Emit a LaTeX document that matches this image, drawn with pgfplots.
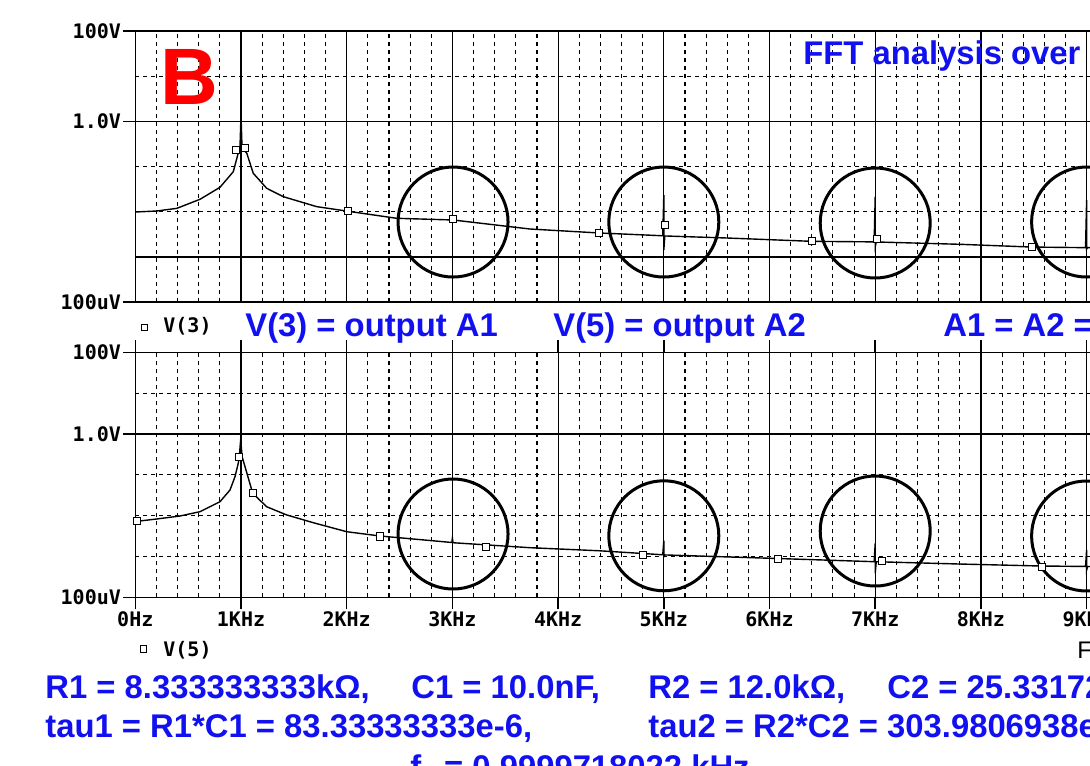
\documentclass[border=0pt]{standalone}
\usepackage{fontspec}
\setmainfont{Liberation Sans}
\newfontfamily\pmono{DejaVu Sans Mono}
\usepackage{pgfplots}
\usepackage{pgfplotstable}
\pgfplotsset{compat=1.18}
\definecolor{pblue}{RGB}{16,16,240}

\tikzset{
  gridd/.style={dash pattern=on 2pt off 2pt, line width=0.55pt, black},
  trace/.style={black, line width=0.7pt},
  spots/.style={only marks, mark=square*, mark size=1.8pt,
    mark options={fill=white, draw=black, line width=0.5pt}},
  ring/.style={line width=1.5pt, black},
  blue txt/.style={anchor=base west, inner sep=0, text=pblue, font=\bfseries\fontsize{16.4}{18}\selectfont},
  mono txt/.style={anchor=base west, inner sep=0, font=\pmono\bfseries\fontsize{10}{10}\selectfont},
}

\pgfplotstableread{
f v
0.000 9.9e-3
0.200 1.04e-2
0.392 1.19e-2
0.612 1.89e-2
0.801 3.48e-2
0.927 7.71e-2
0.974 0.200
0.990 0.25
1.000 1.39
1.010 0.25
1.054 0.200
1.116 7.11e-2
1.243 3.31e-2
1.400 2.16e-2
1.716 1.30e-2
2.009 1.03e-2
2.473 7.18e-3
3.006 6.59e-3
3.734 4.16e-3
4.387 3.40e-3
4.990 2.95e-3
5.000 2.35e-2
5.000 1.43e-3
5.010 2.92e-3
5.600 2.63e-3
6.400 2.22e-3
6.990 2.16e-3
7.000 2.16e-2
7.000 1.69e-3
7.010 2.15e-3
7.800 1.91e-3
8.480 1.66e-3
8.990 1.61e-3
9.000 1.82e-2
9.000 1.50e-3
9.010 1.61e-3
9.500 1.55e-3
}\traceA

\pgfplotstableread{
f v
0.953 0.233
1.038 0.258
2.009 1.03e-2
3.006 6.93e-3
4.387 3.40e-3
5.011 5.10e-3
6.400 2.22e-3
7.016 2.47e-3
8.480 1.66e-3
}\marksA

\pgfplotstableread{
f v
0.000 7.18e-3
0.200 8.26e-3
0.423 9.79e-3
0.612 1.25e-2
0.801 2.19e-2
0.896 4.24e-2
0.943 8.97e-2
0.974 0.191
0.984 0.277
0.997 0.740
1.010 0.280
1.038 0.158
1.111 3.52e-2
1.243 1.65e-2
1.432 1.04e-2
1.684 6.71e-3
2.000 4.04e-3
2.315 3.17e-3
2.995 2.20e-3
3.000 2.83e-3
3.006 2.17e-3
3.734 1.64e-3
4.387 1.38e-3
4.990 1.10e-3
5.000 2.43e-3
5.000 9.86e-4
5.010 1.09e-3
6.078 8.91e-4
6.990 7.45e-4
7.000 2.10e-3
7.000 3.86e-4
7.010 7.43e-4
7.800 6.53e-4
8.576 5.83e-4
8.990 5.70e-4
9.000 1.44e-3
9.000 4.66e-4
9.010 5.68e-4
9.500 5.50e-4
}\traceB

\pgfplotstableread{
f v
0.016 7.38e-3
0.984 0.277
1.111 3.52e-2
2.315 3.10e-3
3.318 1.73e-3
4.802 1.09e-3
6.078 8.51e-4
7.061 7.74e-4
8.575 5.61e-4
}\marksB

\begin{document}
\begin{tikzpicture}
\useasboundingbox (0pt,0pt) rectangle (545pt,382.5pt);
\clip (0pt,0pt) rectangle (545pt,382.5pt);

% top: V(3)
\begin{axis}[
  at={(67.65pt,231.4pt)}, anchor=south west,
  scale only axis, width=528.5pt, height=135.6pt,
  xmin=0, xmax=10, ymode=log, ymin=1e-4, ymax=100,
  axis line style={line width=0.75pt, black},
  xtick={0,1,...,10}, minor x tick num=4, xticklabels={},
  xtick style={draw=none},
  xmajorgrids=true, xminorgrids=true, ymajorgrids=true,
  major grid style={solid, line width=0.6pt, black},
  minor grid style={dash pattern=on 2pt off 2pt, line width=0.55pt, black},
  minor tick length=0pt,
  ytick={1e-4,1,100}, yticklabels={100uV,1.0V,100V},
  tick align=outside, major tick length=6pt,
  tick style={line width=0.75pt, black},
  ticklabel style={font=\pmono\bfseries\fontsize{10}{10}\selectfont, inner sep=1pt},
]
  \draw[gridd] (axis cs:0,10) -- (axis cs:10,10);
  \draw[gridd] (axis cs:0,0.1) -- (axis cs:10,0.1);
  \draw[gridd] (axis cs:0,0.01) -- (axis cs:10,0.01);
  \draw[solid, line width=0.6pt] (axis cs:0,1e-3) -- (axis cs:10,1e-3);
  \addplot[trace] table {\traceA};
  \addplot[spots] table {\marksA};
  \draw[ring] (axis cs:3.006,5.94e-3) circle[radius=27.5pt];
  \draw[ring] (axis cs:5.0,5.94e-3) circle[radius=27.5pt];
  \draw[ring] (axis cs:7.0,5.65e-3) circle[radius=27.5pt];
  \draw[ring] (axis cs:9.0,5.94e-3) circle[radius=27.5pt];
\end{axis}

% bottom: V(5)
\begin{axis}[
  at={(67.65pt,83.85pt)}, anchor=south west,
  scale only axis, width=528.5pt, height=122.5pt,
  xmin=0, xmax=10, ymode=log, ymin=1e-4, ymax=100,
  axis line style={line width=0.75pt, black},
  xtick={0,1,...,10}, minor x tick num=4,
  xticklabels={0Hz,1KHz,2KHz,3KHz,4KHz,5KHz,6KHz,7KHz,8KHz,9KHz,10KHz},
  xmajorgrids=true, xminorgrids=true, ymajorgrids=true,
  major grid style={solid, line width=0.6pt, black},
  minor grid style={dash pattern=on 2pt off 2pt, line width=0.55pt, black},
  minor tick length=0pt,
  ytick={1e-4,1,100}, yticklabels={100uV,1.0V,100V},
  tick align=outside, major tick length=6pt,
  tick style={line width=0.75pt, black},
  ticklabel style={font=\pmono\bfseries\fontsize{10}{10}\selectfont, inner sep=1pt},
]
  \draw[gridd] (axis cs:0,10) -- (axis cs:10,10);
  \draw[gridd] (axis cs:0,0.1) -- (axis cs:10,0.1);
  \draw[gridd] (axis cs:0,0.01) -- (axis cs:10,0.01);
  \draw[gridd] (axis cs:0,1e-3) -- (axis cs:10,1e-3);
  \addplot[trace] table {\traceB};
  \addplot[spots] table {\marksB};
  \draw[ring] (axis cs:3.006,3.55e-3) circle[radius=27.5pt];
  \draw[ring] (axis cs:5.0,3.21e-3) circle[radius=27.5pt];
  \draw[ring] (axis cs:7.0,4.20e-3) circle[radius=27.5pt];
  \draw[ring] (axis cs:9.0,3.17e-3) circle[radius=27.5pt];
\end{axis}

% annotations
\node[anchor=base west, inner sep=0, text=red, font=\bfseries\fontsize{40}{40}\selectfont] at (80pt,330pt) {B};
\node[blue txt] at (401.5pt,350pt) {FFT analysis over};
\node[blue txt] at (122.5pt,214pt) {V(3) = output A1};
\node[blue txt] at (276.5pt,214pt) {V(5) = output A2};
\node[blue txt] at (471.5pt,214pt) {A1 = A2 =};

\draw[line width=0.5pt] (70.5pt,217pt) rectangle (73.5pt,220pt);
\node[mono txt] at (81.5pt,216pt) {V(3)};
\draw[line width=0.5pt] (70pt,56.4pt) rectangle (73pt,59.6pt);
\node[mono txt] at (81.5pt,54.5pt) {V(5)};
\node[anchor=base west, inner sep=0, font=\fontsize{12}{12}\selectfont] at (538.5pt,53.5pt) {Frequency};

\node[blue txt] at (22.5pt,33.5pt) {R1 = 8.333333333k\symbol{"03A9},};
\node[blue txt] at (205.5pt,33.5pt) {C1 = 10.0nF,};
\node[blue txt] at (324pt,33.5pt) {R2 = 12.0k\symbol{"03A9},};
\node[blue txt] at (443.5pt,33.5pt) {C2 = 25.33172};
\node[blue txt] at (22.5pt,14pt) {tau1 = R1*C1 = 83.33333333e-6,};
\node[blue txt] at (324pt,14pt) {tau2 = R2*C2 = 303.9806938e-6};
\node[blue txt] at (205pt,-6.5pt) {f\textsubscript{0} = 0.9999718022 kHz};
\end{tikzpicture}
\end{document}
